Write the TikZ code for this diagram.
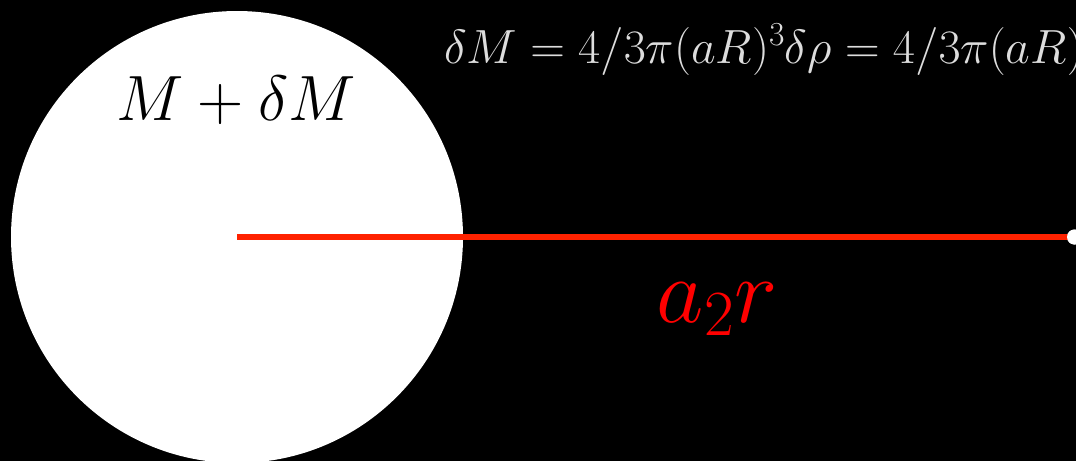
\RequirePackage{fix-cm}
\documentclass[tikz,border=0pt]{standalone}
\definecolor{linered}{HTML}{FF2200}
\definecolor{labelred}{HTML}{FF0000}
\definecolor{lightgray}{HTML}{DDDDDD}
\tikzset{
  ball/.style={circle, fill=white, draw=none, minimum size=452pt, inner sep=0pt},
  enddot/.style={circle, fill=white, draw=none, minimum size=15pt, inner sep=0pt},
  radius line/.style={draw=linered, line width=6.7pt},
  txt/.style={inner sep=0pt, outer sep=0pt}
}
\begin{document}
\begin{tikzpicture}[x=1pt,y=-1pt]
\fill[black] (0,0) rectangle (1076,461);
\useasboundingbox (0,0) rectangle (1076,461);
\clip (0,0) rectangle (1076,461);
\node[ball] (ball) at (237,237) {};
\coordinate (c) at (237,237);
\node[enddot] (dot) at (1074.5,237) {};
\draw[radius line] (c) -- (dot.center);
\node[enddot] at (1074.5,237) {};
\node[txt, anchor=base, text=black] (mass) at (236,120) {\fontsize{64}{70}\selectfont $M+\delta M$};
\node[txt, anchor=base west, text=lightgray] (eq) at (444,63) {\fontsize{48}{52}\selectfont $\delta M = 4/3\pi(aR)^3\delta\rho = 4/3\pi(aR)^3$};
\node[txt, anchor=base, text=labelred] (lab) at (717,322) {\fontsize{92}{98}\selectfont $a_2r$};
\end{tikzpicture}
\end{document}
